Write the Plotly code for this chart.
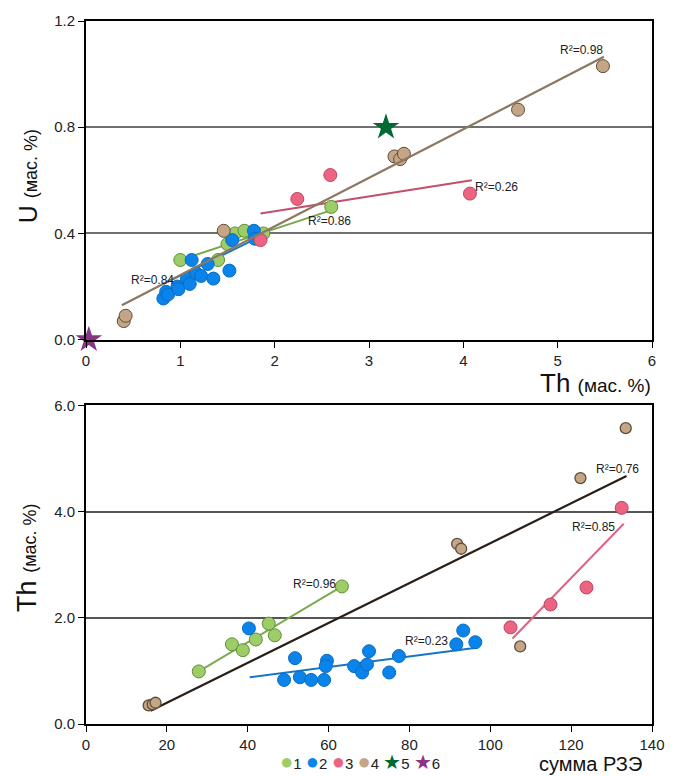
import plotly.graph_objects as go

# ---------------- Top panel: U vs Th (мас. %) ----------------
top_g1_th = [1.00, 1.40, 1.50, 1.58, 1.68, 1.80, 1.88, 2.60]
top_g1_u = [0.30, 0.30, 0.36, 0.40, 0.41, 0.39, 0.40, 0.50]
top_g2_th = [0.82, 0.85, 0.87, 0.97, 0.98, 1.07, 1.10, 1.12, 1.17, 1.22, 1.29, 1.35, 1.52, 1.55, 1.78, 1.79]
top_g2_u = [0.155, 0.18, 0.17, 0.20, 0.19, 0.23, 0.21, 0.30, 0.25, 0.24, 0.285, 0.23, 0.26, 0.375, 0.41, 0.38]
top_g3_th = [1.85, 2.24, 2.59, 4.07]
top_g3_u = [0.375, 0.53, 0.62, 0.55]
top_g4_th = [0.40, 0.42, 1.46, 3.27, 3.33, 3.37, 4.58, 5.48]
top_g4_u = [0.07, 0.09, 0.41, 0.69, 0.68, 0.70, 0.866, 1.03]
top_s5_th = [3.18]
top_s5_u = [0.80]
top_s6_th = [0.03]
top_s6_u = [0.0]

# trend lines (end points)
top_t4_th = [0.38, 5.49]
top_t4_u = [0.13, 1.065]
top_t1_th = [1.00, 2.58]
top_t1_u = [0.30, 0.485]
top_t2_th = [0.82, 1.86]
top_t2_u = [0.21, 0.39]
top_t3_th = [1.85, 4.09]
top_t3_u = [0.475, 0.60]

top_r2_text = ["R²=0.98", "R²=0.26", "R²=0.86", "R²=0.84"]
top_r2_x = [5.25, 4.35, 2.58, 0.70]
top_r2_y = [1.09, 0.574, 0.446, 0.225]

# ---------------- Bottom panel: Th vs сумма РЗЭ ----------------
bot_g1_ree = [27.9, 36.1, 38.8, 42.0, 45.2, 46.7, 63.3]
bot_g1_th = [0.99, 1.50, 1.39, 1.59, 1.89, 1.67, 2.59]
bot_g2_ree = [40.3, 51.7, 49.0, 52.9, 55.7, 58.9, 59.6, 59.3, 66.3, 68.3, 69.5, 70.0, 77.4, 75.0, 91.6, 93.3, 96.3]
bot_g2_th = [1.80, 1.24, 0.83, 0.88, 0.83, 0.83, 1.19, 1.09, 1.09, 0.97, 1.12, 1.37, 1.28, 0.97, 1.50, 1.76, 1.54]
bot_g3_ree = [105.0, 114.9, 123.8, 132.5]
bot_g3_th = [1.82, 2.25, 2.57, 4.07]
bot_g4_ree = [15.5, 16.5, 17.2, 91.8, 92.8, 107.4, 122.3, 133.5]
bot_g4_th = [0.35, 0.37, 0.40, 3.39, 3.30, 1.46, 4.63, 5.57]

bot_tall_ree = [16.0, 133.7]
bot_tall_th = [0.25, 4.67]
bot_t1_ree = [27.9, 63.3]
bot_t1_th = [0.99, 2.59]
bot_t2_ree = [40.5, 97.0]
bot_t2_th = [0.88, 1.44]
bot_t3_ree = [105.5, 133.0]
bot_t3_th = [1.61, 3.77]

bot_r2_text = ["R²=0.96", "R²=0.23", "R²=0.85", "R²=0.76"]
bot_r2_x = [56.4, 84.3, 125.5, 131.4]
bot_r2_y = [2.63, 1.56, 3.71, 4.80]

legend_labels = ["1", "2", "3", "4", "5", "6"]

# ---------------- styles ----------------
C1, C1L = "#9dcc68", "#5e8f35"
C2, C2L = "#0a84ea", "#0a6cc0"
C3, C3L = "#ec6482", "#b84a62"
C4, C4L = "#c4a686", "#5f4d3a"
C5 = "#006a35"
C6 = "#8a3487"
FONT = "Liberation Sans, Arial, sans-serif"

fig = go.Figure()


def line(x, y, color, xa, ya, width=2):
    fig.add_trace(go.Scatter(x=x, y=y, mode="lines", xaxis=xa, yaxis=ya,
                             line=dict(color=color, width=width),
                             showlegend=False, hoverinfo="skip"))


def pts(x, y, fill, edge, xa, ya, size=13, symbol="circle", lw=1, clip=True):
    fig.add_trace(go.Scatter(x=x, y=y, mode="markers", xaxis=xa, yaxis=ya,
                             marker=dict(color=fill, size=size, symbol=symbol,
                                         line=dict(color=edge, width=lw)),
                             cliponaxis=clip, showlegend=False))


# top panel
line(top_t2_th, top_t2_u, "#1874c4", "x", "y")
line(top_t1_th, top_t1_u, "#78a84a", "x", "y")
line(top_t3_th, top_t3_u, "#c24f6c", "x", "y")
pts(top_g1_th, top_g1_u, C1, C1L, "x", "y")
pts(top_g2_th, top_g2_u, C2, C2L, "x", "y")
pts(top_g3_th, top_g3_u, C3, C3L, "x", "y")
pts(top_g4_th, top_g4_u, C4, C4L, "x", "y")
line(top_t4_th, top_t4_u, "#8c7862", "x", "y", 2.2)
pts(top_s5_th, top_s5_u, C5, C5, "x", "y", size=20, symbol="star", lw=0)
pts(top_s6_th, top_s6_u, C6, C6, "x", "y", size=20, symbol="star", lw=0, clip=False)

# bottom panel
line(bot_tall_ree, bot_tall_th, "#2a1f17", "x2", "y2", 2.2)
line(bot_t1_ree, bot_t1_th, "#7aaa4e", "x2", "y2")
line(bot_t2_ree, bot_t2_th, "#1874c4", "x2", "y2")
line(bot_t3_ree, bot_t3_th, "#e06282", "x2", "y2")
pts(bot_g1_ree, bot_g1_th, C1, C1L, "x2", "y2")
pts(bot_g2_ree, bot_g2_th, C2, C2L, "x2", "y2")
pts(bot_g3_ree, bot_g3_th, C3, C3L, "x2", "y2")
pts(bot_g4_ree, bot_g4_th, C4, C4L, "x2", "y2", size=11, lw=1.3)

axis_common = dict(showline=True, linecolor="black", linewidth=2, mirror=True,
                   ticks="outside", ticklen=6, tickcolor="black", tickwidth=1.3,
                   tickfont=dict(family=FONT, size=15, color="#222"),
                   zeroline=False)

fig.update_layout(
    width=677, height=776,
    margin=dict(l=86, r=25, t=18, b=52),
    paper_bgcolor="white", plot_bgcolor="white",
    font=dict(family=FONT, color="#222"),
    showlegend=False,
    xaxis=dict(domain=[0, 1], range=[0, 6], dtick=1, showgrid=False,
               anchor="y", **axis_common),
    yaxis=dict(domain=[0.5467, 1], range=[0, 1.2], dtick=0.4, tickformat=".1f",
               showgrid=True, gridcolor="#707070", gridwidth=1.5,
               anchor="x", **axis_common),
    xaxis2=dict(domain=[0, 1], range=[0, 140], dtick=20, showgrid=False,
                anchor="y2", **axis_common),
    yaxis2=dict(domain=[0, 0.4533], range=[0, 6], dtick=2, tickformat=".1f",
                showgrid=True, gridcolor="#555555", gridwidth=1.5,
                anchor="x2", **axis_common),
)

ann = []
for t, x, y in zip(top_r2_text, top_r2_x, top_r2_y):
    ann.append(dict(text=t, x=x, y=y, xref="x", yref="y", showarrow=False,
                    font=dict(family=FONT, size=12, color="#222")))
for t, x, y in zip(bot_r2_text, bot_r2_x, bot_r2_y):
    ann.append(dict(text=t, x=x, y=y, xref="x2", yref="y2", showarrow=False,
                    font=dict(family=FONT, size=12, color="#222")))

# axis titles
ann.append(dict(text="Th <span style='font-size:19px'>(мас. %)</span>",
                x=1.002, y=0.485, xref="paper", yref="paper", xanchor="right",
                yanchor="middle", showarrow=False,
                font=dict(family=FONT, size=26, color="#111")))
ann.append(dict(text="U <span style='font-size:18px'>(мас. %)</span>",
                x=-0.1025, y=0.779, xref="paper", yref="paper", xanchor="center",
                yanchor="middle", showarrow=False, textangle=-90,
                font=dict(family=FONT, size=25, color="#111")))
ann.append(dict(text="Th <span style='font-size:18px'>(мас. %)</span>",
                x=-0.104, y=0.2365, xref="paper", yref="paper", xanchor="center",
                yanchor="middle", showarrow=False, textangle=-90,
                font=dict(family=FONT, size=27, color="#111")))
ann.append(dict(text="сумма РЗЭ", x=0.986, y=-0.057, xref="paper", yref="paper",
                xanchor="right", yanchor="middle", showarrow=False,
                font=dict(family=FONT, size=20, color="#111")))

# legend (compact, as in the original)
sym = [("●", C1), ("●", C2), ("●", C3), ("●", C4), ("★", C5), ("★", C6)]
parts = []
for (s, c), lab in zip(sym, legend_labels):
    fs = 22 if s == "●" else 20
    parts.append(f"<span style='color:{c};font-size:{fs}px'>{s}</span>{lab}")
ann.append(dict(text="&nbsp;".join(parts), x=0.484, y=-0.0725,
                xref="paper", yref="paper", xanchor="center", yanchor="bottom",
                showarrow=False, borderpad=0,
                font=dict(family=FONT, size=15, color="#222")))

fig.update_layout(annotations=ann)
fig.write_html("out.html")
